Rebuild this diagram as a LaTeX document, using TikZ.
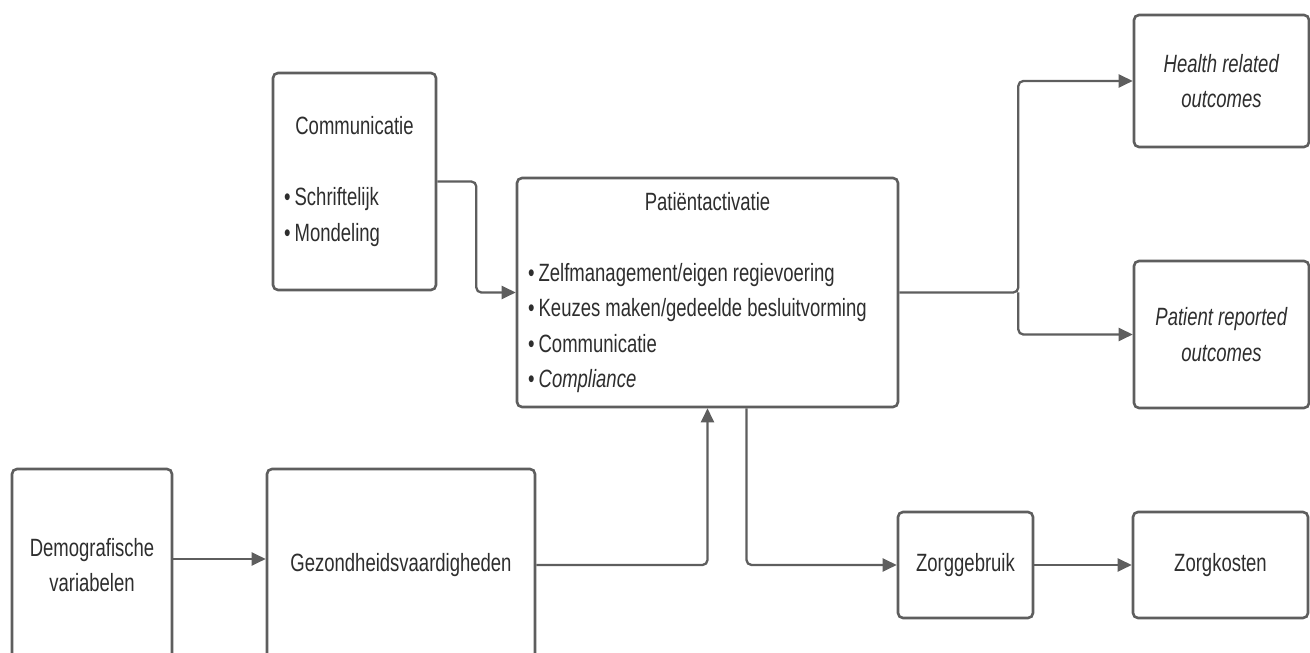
\documentclass[tikz,border=0pt]{standalone}
\usepackage{fontspec}
\setmainfont{Liberation Sans}[FakeStretch=0.74]
\usepackage{tikz}
\usetikzlibrary{calc}
\usetikzlibrary{arrows.meta,positioning}
\definecolor{boxgray}{HTML}{5E5E5E}
\definecolor{txtgray}{HTML}{2E2E2E}
\tikzset{
  box/.style={draw=boxgray, line width=2.6pt, rounded corners=5pt, fill=white,
    inner sep=0pt, text=txtgray, align=center, font=\fontsize{25}{35.5}\selectfont},
  listbox/.style={box, align=flush left, inner xsep=11pt},
  flow/.style={draw=boxgray, line width=2.3pt, rounded corners=5pt, ->},
}

\begin{document}
\begin{tikzpicture}[x=1pt,y=1pt,>={Triangle[length=14pt,width=13pt]}]
  \useasboundingbox (0,0) rectangle (1310,653);
  \clip (0,0) rectangle (1310,653);

      \node[listbox, text width=141pt, minimum height=217pt] (comm) at (354.5,471.5)
        {\makebox[\hsize]{Communicatie}\\[35.5pt] •\,Schriftelijk\\ •\,Mondeling};
      \node[listbox, text width=359pt, minimum height=229pt] (pat) at (707.5,360.5)
        {\makebox[\hsize]{Patiëntactivatie}\\[35.5pt]
         •\,Zelfmanagement/eigen regievoering\\
         •\,Keuzes maken/gedeelde besluitvorming\\
         •\,Communicatie\\
         •\,\textit{Compliance}};

      \node[box, minimum width=175pt, minimum height=132pt] (health) at (1221.5,572)
        {\textit{Health related}\\ \textit{outcomes}};
      \node[box, minimum width=175pt, minimum height=147pt, node distance=253.5pt] (prom) [below of=health]
        {\textit{Patient reported}\\ \textit{outcomes}};

      \node[box, minimum width=160pt, minimum height=192pt] (demo) at (92,88)
        {Demografische\\ variabelen};
      \node[box, minimum width=268pt, minimum height=192pt, node distance=309pt] (gez) [right of=demo]
        {Gezondheidsvaardigheden};
      \node[box, minimum width=135pt, minimum height=106pt, node distance=564.5pt] (zg) [right of=gez]
        {Zorggebruik};
      \node[box, minimum width=175pt, minimum height=106pt, node distance=255pt] (zk) [right of=zg]
        {Zorgkosten};

      \coordinate (split) at ($(pat.east)+(119,0)$);

      \draw [flow] (comm.east) -- ++(39,0) |- (pat.west);
      \draw [flow] (pat.east) -- (split) |- (health.west);
      \draw [flow] (split) |- (prom.west);
      \draw [flow] ([yshift=6pt]demo.east) -- ([yshift=6pt]gez.west);
      \draw [flow] (gez.east) -| (pat.south);
      \draw [flow] ([xshift=39pt]pat.south) |- (zg.west);
      \draw [flow] (zg.east) -- (zk.west);
    \end{tikzpicture}
\end{document}
